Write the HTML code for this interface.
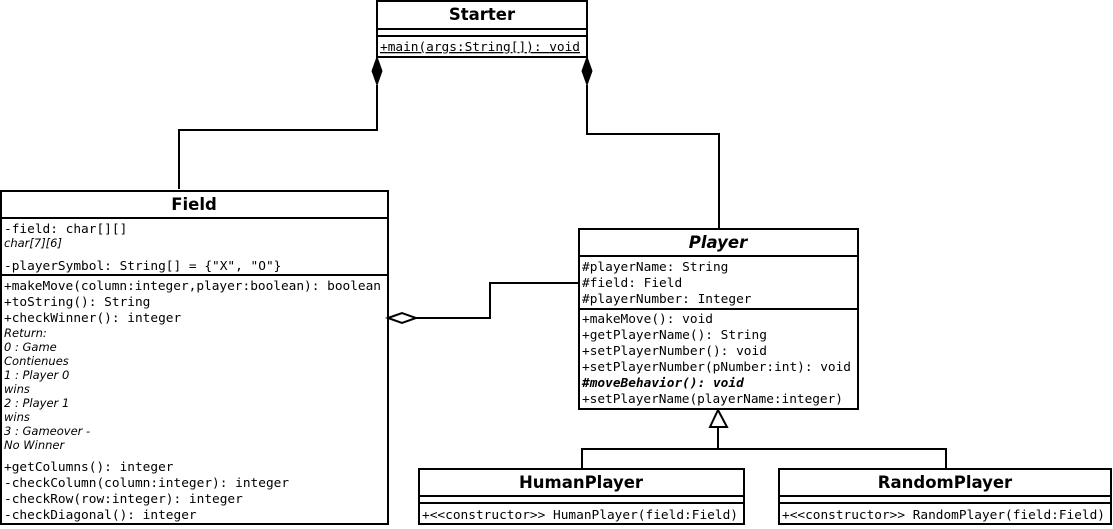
<!DOCTYPE html>
<html><head><meta charset="utf-8"><style>
html,body{margin:0;padding:0;background:#fff;width:1113px;height:529px;overflow:hidden}
svg{display:block}
.m{font-family:"DejaVu Sans Mono","Liberation Mono",monospace;font-size:12.8px;fill:#000}
.t{font-family:"DejaVu Sans","Liberation Sans",sans-serif;font-size:16.5px;font-weight:bold;fill:#000}
.n{font-family:"DejaVu Sans","Liberation Sans",sans-serif;font-size:11.5px;font-style:italic;fill:#000}
</style></head><body>
<svg width="1113" height="529" viewBox="0 0 1113 529" xmlns="http://www.w3.org/2000/svg">
<g fill="none" stroke="#000" stroke-width="2">
<rect x="377" y="1" width="210" height="56"/>
<line x1="377" y1="29" x2="587" y2="29"/>
<line x1="377" y1="36" x2="587" y2="36"/>
<rect x="1" y="191" width="387" height="333"/>
<line x1="1" y1="218" x2="388" y2="218"/>
<line x1="1" y1="275" x2="388" y2="275"/>
<rect x="579" y="229" width="279" height="180"/>
<line x1="579" y1="256" x2="858" y2="256"/>
<line x1="579" y1="309" x2="858" y2="309"/>
<rect x="419" y="469" width="325" height="55"/>
<line x1="419" y1="496" x2="744" y2="496"/>
<line x1="419" y1="503" x2="744" y2="503"/>
<rect x="779" y="469" width="332" height="55"/>
<line x1="779" y1="496" x2="1111" y2="496"/>
<line x1="779" y1="503" x2="1111" y2="503"/>
<polyline points="377,85 377,130 179,130 179,189"/>
<polyline points="587,85 587,134 719,134 719,229"/>
<polyline points="416,318 490,318 490,283 579,283"/>
<polyline points="718,427 718,449"/>
<polyline points="582,469 582,449 946,449 946,469"/>
</g>
<polygon points="377,57 382,71 377,85 372,71" fill="#000" stroke="#000" stroke-width="1"/>
<polygon points="587,57 592,71 587,85 582,71" fill="#000" stroke="#000" stroke-width="1"/>
<polygon points="388,318 402,313 416,318 402,323" fill="#fff" stroke="#000" stroke-width="2"/>
<polygon points="718,410 727,427 710,427" fill="#fff" stroke="#000" stroke-width="2"/>

<text class="t" x="482" y="20" text-anchor="middle">Starter</text>
<text class="m" x="380" y="51" text-decoration="underline" textLength="200">+main(args:String[]): void</text>

<text class="t" x="194" y="210" text-anchor="middle">Field</text>
<text class="m" x="4" y="233">-field: char[][]</text>
<text class="n" x="4" y="247">char[7][6]</text>
<text class="m" x="4" y="270">-playerSymbol: String[] = {"X", "O"}</text>
<text class="m" x="4" y="290" textLength="377">+makeMove(column:integer,player:boolean): boolean</text>
<text class="m" x="4" y="306">+toString(): String</text>
<text class="m" x="4" y="322">+checkWinner(): integer</text>
<text class="n" x="4" y="337">Return:</text>
<text class="n" x="4" y="351">0 : Game</text>
<text class="n" x="4" y="365">Contienues</text>
<text class="n" x="4" y="379">1 : Player 0</text>
<text class="n" x="4" y="393">wins</text>
<text class="n" x="4" y="407">2 : Player 1</text>
<text class="n" x="4" y="421">wins</text>
<text class="n" x="4" y="435">3 : Gameover -</text>
<text class="n" x="4" y="449">No Winner</text>
<text class="m" x="4" y="471">+getColumns(): integer</text>
<text class="m" x="4" y="487">-checkColumn(column:integer): integer</text>
<text class="m" x="4" y="503">-checkRow(row:integer): integer</text>
<text class="m" x="4" y="519">-checkDiagonal(): integer</text>

<text class="t" x="718" y="248" text-anchor="middle" font-style="italic">Player</text>
<text class="m" x="582" y="271">#playerName: String</text>
<text class="m" x="582" y="287">#field: Field</text>
<text class="m" x="582" y="303">#playerNumber: Integer</text>
<text class="m" x="582" y="323">+makeMove(): void</text>
<text class="m" x="582" y="339">+getPlayerName(): String</text>
<text class="m" x="582" y="355">+setPlayerNumber(): void</text>
<text class="m" x="582" y="371" textLength="269">+setPlayerNumber(pNumber:int): void</text>
<text class="m" x="582" y="387" font-weight="bold" font-style="italic">#moveBehavior(): void</text>
<text class="m" x="582" y="403" textLength="261">+setPlayerName(playerName:integer)</text>

<text class="t" x="581" y="488" text-anchor="middle">HumanPlayer</text>
<text class="m" x="422" y="519" textLength="316" lengthAdjust="spacingAndGlyphs">+&lt;&lt;constructor&gt;&gt; HumanPlayer(field:Field)</text>
<text class="t" x="945" y="488" text-anchor="middle">RandomPlayer</text>
<text class="m" x="782" y="519" textLength="323" lengthAdjust="spacingAndGlyphs">+&lt;&lt;constructor&gt;&gt; RandomPlayer(field:Field)</text>
</svg>
</body></html>
